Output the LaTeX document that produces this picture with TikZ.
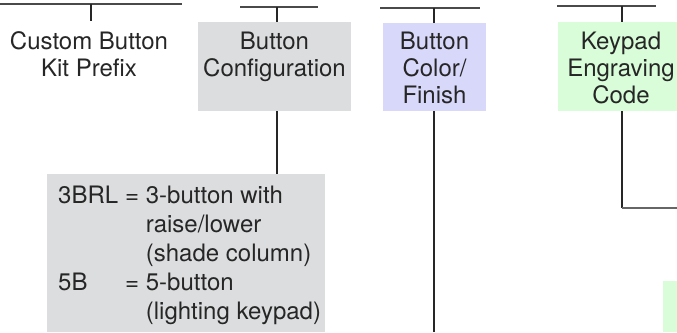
\documentclass[tikz,border=0pt]{standalone}
\usepackage{fontspec}
\setmainfont{TeX Gyre Heros}
\definecolor{boxgray}{HTML}{DCDDDF}
\definecolor{boxblue}{HTML}{D8D8FB}
\definecolor{boxgreen}{HTML}{D9FDD9}
\definecolor{linedark}{HTML}{262626}
\definecolor{linemid}{HTML}{4A4A4A}
\definecolor{linegray}{HTML}{666666}
\tikzset{
  txt/.style={font=\fontsize{24pt}{27pt}\selectfont, text=black!85, align=center, inner sep=0pt, anchor=base},
  listtxt/.style={font=\fontsize{24pt}{29pt}\selectfont, text=black!85, align=left, inner sep=0pt, anchor=base west},
  fbox/.style={draw=none, inner sep=0pt, anchor=north west},
  topline/.style={draw=linemid, line width=1.4pt},
  tick/.style={draw=linedark, line width=1.3pt},
  conn/.style={draw=linedark, line width=1.3pt},
}
\begin{document}
\begin{tikzpicture}[x=1pt, y=-1pt]
\useasboundingbox (0,0) rectangle (677,332);
% boxes
\node[fbox, fill=boxgray, minimum width=153pt, minimum height=89pt] (cfg) at (198,22) {};
\node[fbox, fill=boxgray, minimum width=278pt, minimum height=158pt] (lst) at (47,174) {};
\node[fbox, fill=boxblue, minimum width=103pt, minimum height=88pt] (col) at (383,23) {};
\node[fbox, fill=boxgreen, minimum width=119pt, minimum height=89pt] (eng) at (558,22) {};
\node[fbox, fill=boxgreen, minimum width=14pt, minimum height=51pt] (sgr) at (663,281) {};
% texts (anchor base = baseline of last line)
\node[txt] (kit) at (89,76) {Custom Button\\Kit Prefix};
\node[txt] (cfgt) at (274.5,76) {Button\\Configuration};
\node[txt] (colt) at (434.5,103) {Button\\Color/\\Finish};
\node[txt] (engt) at (621,103) {Keypad\\Engraving\\Code};
\node[listtxt] (lstt) at (58,319) {\makebox[67pt][l]{3BRL}= 3-button with\\
\hspace*{87.7pt}raise/lower\\
\hspace*{87.7pt}(shade column)\\
\makebox[67pt][l]{5B}= 5-button\\
\hspace*{87.7pt}(lighting keypad)};
% coordinates
\coordinate (aL) at (0,4); \coordinate (aR) at (182,4);
\coordinate (aT) at (91,4); \coordinate (aB) at (91,21);
\coordinate (bL) at (240,7); \coordinate (bR) at (318,7);
\coordinate (bT) at (277,7); \coordinate (bB) at (277,22);
\coordinate (bD1) at (277,111); \coordinate (bD2) at (277,174);
\coordinate (cL) at (380,8); \coordinate (cR) at (480,8);
\coordinate (cT) at (434,8); \coordinate (cB) at (434,23);
\coordinate (cD1) at (434,111); \coordinate (cD2) at (434,332);
\coordinate (dL) at (557,6); \coordinate (dR) at (656,6);
\coordinate (dT) at (622,6); \coordinate (dB) at (622,22);
\coordinate (dD1) at (622,111); \coordinate (dD2) at (622,208); \coordinate (dD3) at (677,208);
% lines
\draw[topline] (aL) -- (aR);
\draw[tick] (aT) -- (aB);
\draw[topline] (bL) -- (bR);
\draw[tick] (bT) -- (bB);
\draw[conn] (bD1) -- (bD2);
\draw[topline] (cL) -- (cR);
\draw[tick] (cT) -- (cB);
\draw[conn] (cD1) -- (cD2);
\draw[topline] (dL) -- (dR);
\draw[tick] (dT) -- (dB);
\draw[conn] (dD1) -- (dD2);
\draw[draw=linegray, line width=1.4pt] (dD2) -- (dD3);
\end{tikzpicture}
\end{document}
